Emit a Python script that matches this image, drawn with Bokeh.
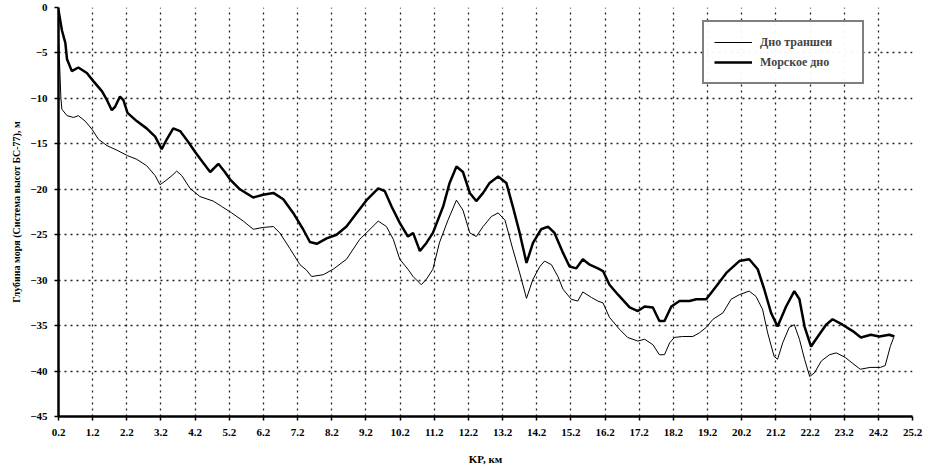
from bokeh.plotting import figure
from bokeh.models import FixedTicker, Legend, LegendItem
from bokeh.embed import file_html
from bokeh.resources import INLINE

# KP (km) and depth (m) for the seabed (thick line)
seabed_kp = [0.2, 0.3, 0.4, 0.45, 0.59, 0.78, 1.03, 1.22, 1.47, 1.62, 1.76, 1.86, 2.0, 2.1, 2.22,
             2.49, 2.78, 3.03, 3.22, 3.37, 3.56, 3.76, 4.0, 4.2, 4.44, 4.64, 4.88, 5.07, 5.22,
             5.51, 5.90, 6.19, 6.49, 6.78, 7.07, 7.36, 7.56, 7.76, 8.05, 8.34, 8.63, 8.93, 9.24,
             9.56, 9.75, 9.95, 10.19, 10.43, 10.58, 10.78, 10.97, 11.16, 11.46, 11.65, 11.85,
             12.04, 12.24, 12.43, 12.63, 12.82, 13.07, 13.31, 13.50, 13.70, 13.90, 14.09, 14.33,
             14.53, 14.72, 14.97, 15.16, 15.36, 15.55, 15.75, 15.99, 16.14, 16.33, 16.58, 16.92,
             17.16, 17.36, 17.60, 17.79, 17.94, 18.14, 18.38, 18.67, 18.87, 19.16, 19.45, 19.75,
             20.13, 20.42, 20.67, 20.86, 21.06, 21.25, 21.50, 21.74, 21.89, 22.04, 22.23, 22.43,
             22.67, 22.86, 23.15, 23.45, 23.69, 23.98, 24.23, 24.52, 24.67]
seabed_depth = [-0.3, -2.5, -3.9, -5.7, -7.0, -6.6, -7.2, -8.1, -9.2, -10.2, -11.3, -10.9, -9.8,
                -10.2, -11.6, -12.5, -13.3, -14.2, -15.6, -14.5, -13.3, -13.6, -14.8, -15.9,
                -17.1, -18.1, -17.2, -18.1, -18.9, -20.0, -20.9, -20.6, -20.4, -21.1, -22.6,
                -24.4, -25.8, -26.0, -25.4, -25.0, -24.1, -22.6, -21.1, -19.9, -20.2, -21.9,
                -23.7, -25.2, -24.8, -26.8, -25.9, -24.8, -21.9, -19.3, -17.5, -18.1, -20.4,
                -21.3, -20.4, -19.3, -18.6, -19.3, -21.9, -24.8, -28.1, -25.9, -24.4, -24.1,
                -24.8, -27.0, -28.5, -28.7, -27.7, -28.3, -28.7, -29.0, -30.5, -31.6, -33.0,
                -33.4, -32.9, -33.0, -34.5, -34.5, -32.9, -32.3, -32.3, -32.1, -32.1, -30.7,
                -29.2, -27.9, -27.7, -28.8, -31.0, -33.6, -35.1, -32.9, -31.2, -32.1, -35.1,
                -37.3, -36.2, -34.9, -34.3, -34.9, -35.6, -36.3, -36.0, -36.2, -36.0, -36.2]

# KP (km) and depth (m) for the trench bottom (thin line)
trench_kp = [0.2, 0.27, 0.3, 0.45, 0.64, 0.78, 0.98, 1.18, 1.37, 1.62, 1.91, 2.22, 2.49, 2.78,
             3.03, 3.17, 3.32, 3.52, 3.66, 3.81, 4.05, 4.34, 4.73, 4.98, 5.27, 5.61, 5.90, 6.19,
             6.49, 6.68, 6.97, 7.27, 7.46, 7.61, 7.95, 8.24, 8.63, 9.02, 9.32, 9.56, 9.80, 10.0,
             10.19, 10.43, 10.58, 10.82, 10.97, 11.16, 11.35, 11.60, 11.85, 12.04, 12.24, 12.43,
             12.63, 12.87, 13.07, 13.27, 13.50, 13.70, 13.90, 14.09, 14.29, 14.43, 14.63, 14.82,
             14.97, 15.21, 15.40, 15.55, 15.80, 15.99, 16.14, 16.33, 16.62, 16.86, 17.16, 17.36,
             17.60, 17.79, 17.94, 18.09, 18.23, 18.47, 18.77, 18.96, 19.16, 19.36, 19.65, 19.89,
             20.13, 20.42, 20.62, 20.81, 20.96, 21.15, 21.25, 21.40, 21.59, 21.74, 21.89, 22.04,
             22.19, 22.33, 22.53, 22.77, 22.97, 23.23, 23.43, 23.67, 23.96, 24.26, 24.40, 24.55,
             24.65]
trench_depth = [-3.0, -10.0, -11.2, -11.9, -12.1, -11.9, -12.5, -13.4, -14.5, -15.2, -15.7,
                -16.3, -16.7, -17.4, -18.5, -19.5, -19.1, -18.5, -18.0, -18.5, -19.9, -20.8,
                -21.3, -21.9, -22.6, -23.5, -24.4, -24.2, -24.1, -24.8, -26.5, -28.3, -28.9,
                -29.6, -29.4, -28.8, -27.7, -25.5, -24.4, -23.5, -24.1, -25.5, -27.7, -28.8,
                -29.6, -30.5, -29.9, -28.8, -25.9, -23.4, -21.2, -22.3, -24.8, -25.2, -24.1,
                -23.0, -22.6, -23.4, -26.6, -29.2, -32.0, -29.9, -28.5, -27.9, -28.3, -29.6,
                -31.0, -32.1, -32.3, -31.3, -31.9, -32.3, -32.5, -34.1, -35.4, -36.3, -36.7,
                -36.5, -37.1, -38.2, -38.2, -36.9, -36.3, -36.2, -36.2, -35.8, -35.2, -34.3,
                -33.6, -32.1, -31.6, -31.2, -31.8, -33.2, -35.8, -38.4, -38.7, -36.9, -35.2,
                -34.9, -36.5, -38.7, -40.6, -40.2, -38.9, -38.2, -38.0, -38.5, -39.1, -39.8,
                -39.6, -39.6, -39.4, -37.3, -36.3]

x_ticks = [0.2, 1.2, 2.2, 3.2, 4.2, 5.2, 6.2, 7.2, 8.2, 9.2, 10.2, 11.2, 12.2, 13.2, 14.2,
           15.2, 16.2, 17.2, 18.2, 19.2, 20.2, 21.2, 22.2, 23.2, 24.2, 25.2]
x_tick_labels = ["0.2", "1.2", "2.2", "3.2", "4.2", "5.2", "6.2", "7.2", "8.2", "9.2", "10.2",
                 "11.2", "12.2", "13.2", "14.2", "15.2", "16.2", "17.2", "18.2", "19.2", "20.2",
                 "21.2", "22.2", "23.2", "24.2", "25.2"]
y_ticks = [0, -5, -10, -15, -20, -25, -30, -35, -40, -45]

series_names = ["Дно траншеи", "Морское дно"]
x_title = "KP, км"
y_title = "Глубина моря (Система высот БС-77), м"

FONT = "Liberation Serif"

xt = FixedTicker(ticks=x_ticks)
yt = FixedTicker(ticks=y_ticks)

p = figure(width=926, height=470, x_range=(0.2, 25.2), y_range=(-45, 0),
           output_backend="svg", toolbar_location=None,
           min_border_left=58, min_border_right=14, min_border_top=7, min_border_bottom=54)
p.outline_line_color = None
p.background_fill_color = "white"

# axes
p.xaxis.ticker = xt
p.xaxis.major_label_overrides = {t: l for t, l in zip(x_ticks, x_tick_labels)}
p.yaxis.ticker = yt
p.xaxis.minor_tick_line_color = None
p.yaxis.minor_tick_line_color = None
for ax in (p.xaxis[0], p.yaxis[0]):
    ax.axis_line_color = "black"
    ax.axis_line_width = 2.5
    ax.major_tick_line_color = "black"
    ax.major_tick_line_width = 1.5
    ax.major_tick_out = 4
    ax.major_tick_in = 0
    ax.major_label_text_font = FONT
    ax.major_label_text_font_style = "bold"
    ax.major_label_text_font_size = "11px"
    ax.major_label_text_color = "black"
    ax.axis_label_text_font = FONT
    ax.axis_label_text_font_style = "bold"
    ax.axis_label_text_color = "black"
p.xaxis.major_label_standoff = 8
p.yaxis.major_label_standoff = 7
p.xaxis.axis_label = x_title
p.xaxis.axis_label_text_font_size = "11px"
p.xaxis.axis_label_standoff = 14
p.yaxis.axis_label = y_title
p.yaxis.axis_label_text_font_size = "10px"
p.yaxis.axis_label_standoff = 5

# grid (dotted, black)
p.xgrid.ticker = xt
p.ygrid.ticker = yt
p.grid.grid_line_color = "#222222"
p.grid.grid_line_dash = "dotted"
p.grid.grid_line_width = 1.3
p.grid.grid_line_alpha = 1.0

r_trench = p.line(trench_kp, trench_depth, line_color="black", line_width=1)
r_seabed = p.line(seabed_kp, seabed_depth, line_color="black", line_width=2.5)

legend = Legend(items=[LegendItem(label=series_names[0], renderers=[r_trench]),
                       LegendItem(label=series_names[1], renderers=[r_seabed])],
                location=(644, 332))
legend.border_line_color = "black"
legend.border_line_width = 2
legend.background_fill_color = "white"
legend.label_text_font = FONT
legend.label_text_font_style = "bold"
legend.label_text_font_size = "12px"
legend.glyph_width = 38
legend.label_width = 92
legend.label_standoff = 8
legend.spacing = 0
legend.padding = 10
legend.margin = 0
p.add_layout(legend, "center")

open("out.html", "w").write(file_html(p, INLINE))
